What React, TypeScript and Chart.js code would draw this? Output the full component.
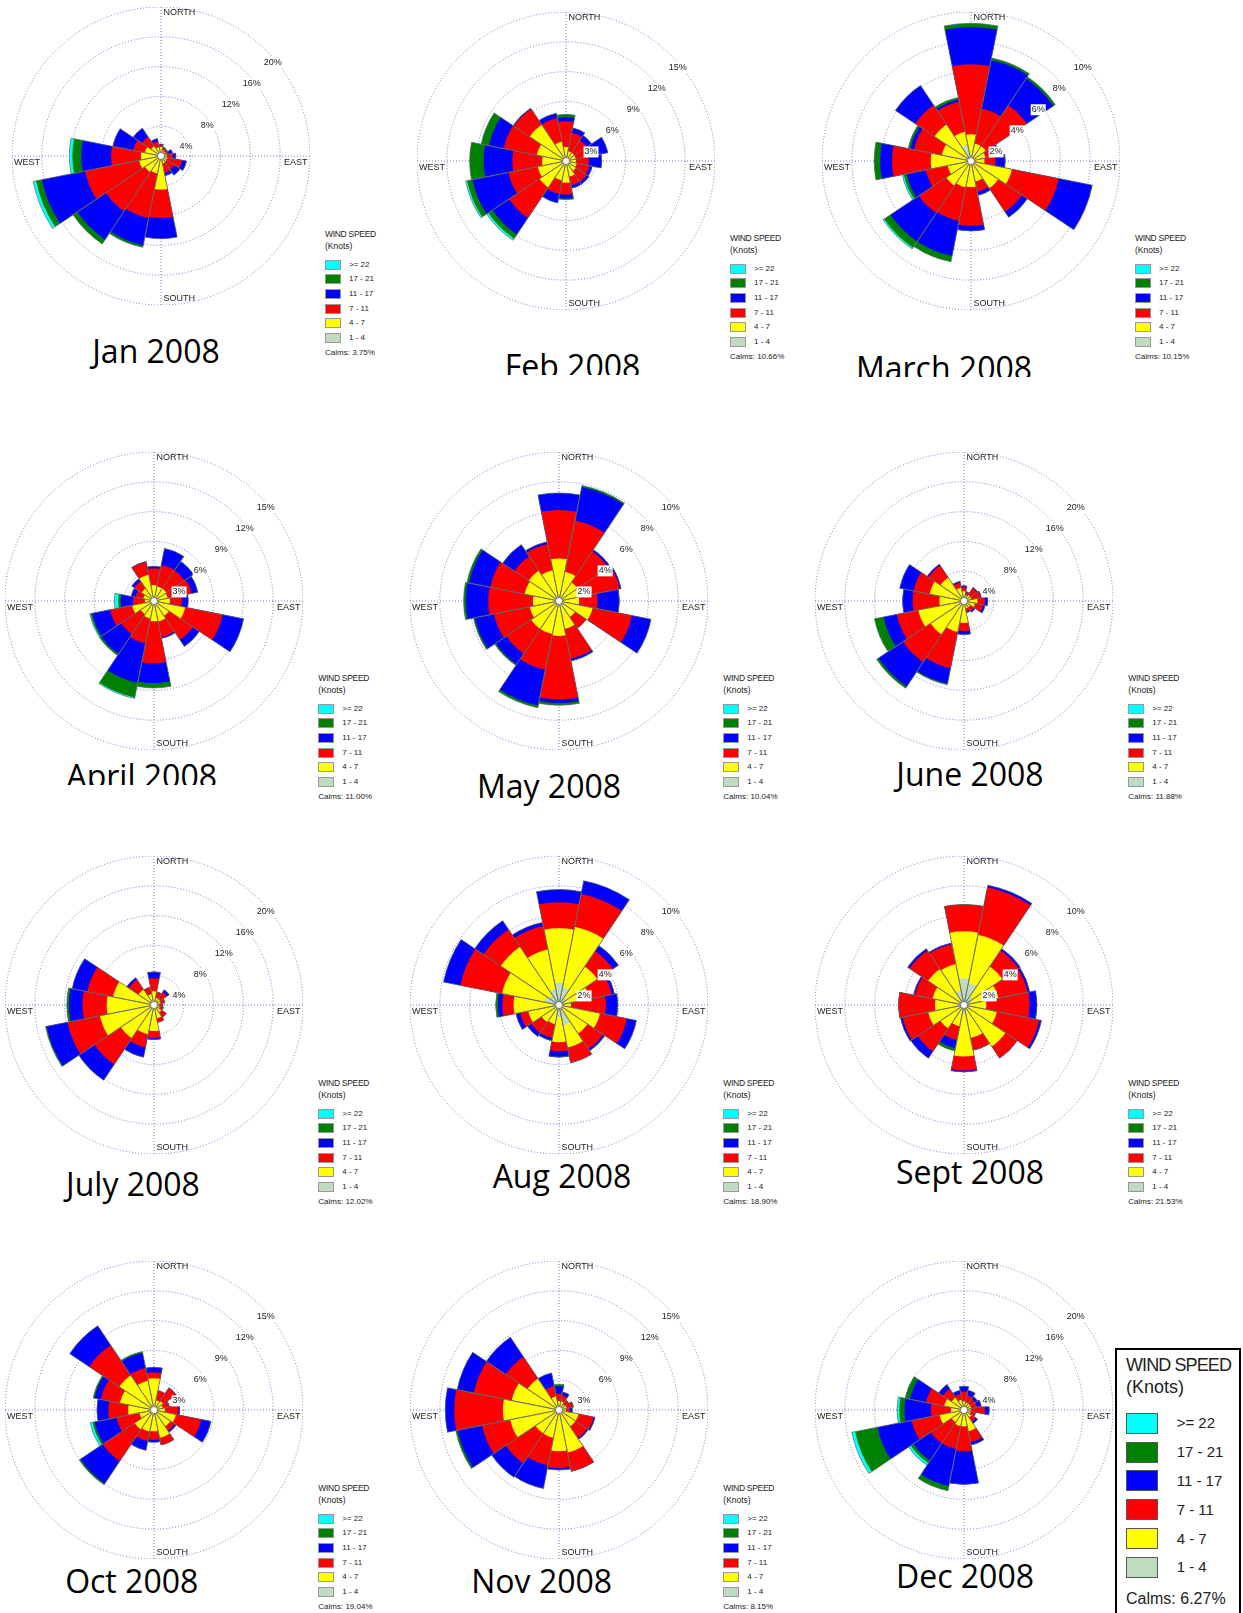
import React, { useEffect, useRef } from 'react';
import Chart from 'chart.js/auto';

// ---------------- DATA ----------------
const DIRECTIONS = ['N', 'NNE', 'NE', 'ENE', 'E', 'ESE', 'SE', 'SSE', 'S', 'SSW', 'SW', 'WSW', 'W', 'WNW', 'NW', 'NNW'];
const SPEED_BANDS = ['1 - 4', '4 - 7', '7 - 11', '11 - 17', '17 - 21', '>= 22'];
const MONTH_TITLES = ['Jan 2008', 'Feb 2008', 'March 2008', 'April 2008', 'May 2008', 'June 2008', 'July 2008', 'Aug 2008', 'Sept 2008', 'Oct 2008', 'Nov 2008', 'Dec 2008'];
const CALMS = [3.75, 10.66, 10.15, 11.0, 10.04, 11.88, 12.02, 18.9, 21.53, 19.04, 8.15, 6.27];
const SCALE_MAX = [20, 15, 10, 15, 10, 20, 20, 10, 10, 15, 15, 20];

// frequency (%) per direction (N..NNW) and speed band (1-4, 4-7, 7-11, 11-17, 17-21, >=22)
const JAN = [
  [0.3, 0.9, 0.3, 0.1, 0, 0], [0.2, 0.6, 0.3, 0.1, 0, 0], [0.2, 0.5, 0.3, 0.1, 0, 0], [0.2, 0.5, 0.4, 0.5, 0, 0],
  [0.2, 0.6, 0.8, 0.4, 0, 0], [0.2, 0.7, 2.0, 0.6, 0, 0], [0.2, 0.7, 1.3, 0.9, 0, 0], [0.2, 0.8, 1.3, 0.4, 0, 0],
  [0.3, 4.2, 3.8, 2.8, 0, 0], [0.3, 2.1, 6.1, 3.7, 0.3, 0], [0.3, 2.3, 6.3, 4.6, 0.7, 0], [0.3, 2.7, 7.4, 5.9, 0.8, 0.4],
  [0.3, 2.4, 4.0, 4.0, 1.2, 0.4], [0.3, 1.9, 1.6, 2.8, 0, 0], [0.3, 1.3, 1.5, 1.4, 0, 0], [0.3, 0.9, 0.8, 0.4, 0, 0],
];
const FEB = [
  [0.3, 1.1, 2.6, 0.4, 0.3, 0], [0.3, 0.7, 1.9, 0.5, 0, 0], [0.3, 0.7, 1.5, 0.6, 0, 0], [0.3, 0.7, 1.7, 1.6, 0, 0],
  [0.3, 0.7, 1.3, 1.3, 0, 0], [0.3, 0.8, 1.3, 0.3, 0, 0], [0.3, 0.9, 1.3, 0.3, 0, 0], [0.3, 1.3, 0.9, 0.3, 0, 0],
  [0.3, 1.9, 1.2, 0.4, 0.1, 0], [0.3, 1.7, 1.4, 0.9, 0, 0], [0.3, 2.9, 3.7, 2.0, 0.5, 0.2], [0.3, 2.6, 3.0, 3.7, 0.55, 0.15],
  [0.3, 2.1, 3.0, 2.9, 1.4, 0], [0.5, 2.5, 3.4, 1.5, 0.8, 0], [0.3, 4.1, 1.9, 0.1, 0, 0], [0.3, 1.7, 2.4, 0.5, 0, 0],
];
const MAR = [
  [0.3, 1.5, 4.7, 2.5, 0.24, 0], [0.2, 1.0, 2.4, 3.3, 0.15, 0], [0.2, 1.0, 3.3, 2.15, 0.15, 0], [0.2, 0.8, 0.9, 0.1, 0, 0],
  [0.2, 0.7, 0.75, 0.65, 0, 0], [0.2, 2.6, 3.2, 2.3, 0, 0], [0.2, 2.0, 1.9, 0.45, 0, 0], [0.2, 1.2, 0.7, 0.25, 0, 0],
  [0.2, 1.55, 2.6, 0.35, 0, 0], [0.2, 1.6, 2.3, 2.4, 0.4, 0], [0.2, 1.8, 2.2, 2.3, 0.5, 0.1], [0.2, 1.4, 1.5, 1.3, 0.2, 0.1],
  [0.3, 2.4, 2.6, 0.8, 0.4, 0], [0.3, 1.7, 1.9, 0.25, 0.15, 0], [0.4, 2.55, 1.55, 1.6, 0, 0], [1.1, 0.9, 2.05, 0.15, 0.15, 0],
];
const APR = [
  [0.2, 1.4, 1.7, 0.2, 0, 0], [0.2, 1.3, 2.2, 1.7, 0, 0], [0.2, 1.3, 2.2, 1.1, 0, 0], [0.2, 1.2, 2.45, 0.65, 0, 0],
  [0.2, 1.4, 1.2, 0.65, 0, 0], [0.2, 3.0, 3.85, 2.15, 0, 0], [0.2, 1.6, 2.9, 0.8, 0, 0], [0.2, 1.9, 1.6, 0.15, 0, 0],
  [0.2, 1.85, 4.2, 2.0, 0.5, 0], [0.2, 1.6, 2.55, 4.05, 1.5, 0.1], [0.2, 1.4, 2.4, 2.4, 0.2, 0], [0.2, 2.05, 2.25, 1.85, 0.15, 0.1],
  [0.2, 0.7, 1.2, 1.25, 0.25, 0.4], [0.2, 0.9, 0.8, 0.45, 0, 0], [0.2, 1.3, 0.9, 0.3, 0, 0], [0.2, 2.5, 1.3, 0.05, 0, 0],
];
const MAY = [
  [0.4, 2.45, 3.25, 1.15, 0, 0], [0.3, 1.7, 3.5, 2.3, 0.1, 0], [0.3, 1.2, 2.5, 0.15, 0, 0], [0.3, 1.2, 2.65, 0.1, 0, 0],
  [0.3, 1.05, 1.25, 1.45, 0, 0], [0.3, 2.0, 2.7, 1.3, 0, 0], [0.3, 1.0, 0.9, 0, 0, 0], [0.3, 1.6, 2.05, 0.15, 0, 0],
  [0.4, 1.95, 4.25, 0.25, 0.15, 0], [0.3, 1.95, 2.45, 2.45, 0.15, 0], [0.3, 1.95, 2.0, 0.85, 0.1, 0], [0.3, 1.7, 2.45, 1.3, 0.1, 0],
  [0.3, 1.45, 3.0, 1.5, 0.15, 0], [0.3, 2.05, 2.35, 1.45, 0.15, 0], [0.3, 2.15, 1.15, 0.95, 0, 0], [0.3, 1.8, 1.8, 0.15, 0, 0],
];
const JUN = [
  [0.2, 1.1, 0.5, 0.25, 0, 0], [0.2, 0.6, 0.4, 0.1, 0, 0], [0.2, 0.8, 1.1, 0.1, 0, 0], [0.2, 0.8, 1.3, 0.1, 0, 0],
  [0.2, 1.6, 1.0, 0.4, 0, 0], [0.2, 1.3, 1.1, 0.3, 0, 0], [0.2, 0.8, 0.6, 0.2, 0, 0], [0.2, 0.8, 0.5, 0.1, 0, 0],
  [0.2, 2.75, 1.1, 0.45, 0, 0], [0.2, 4.05, 4.95, 2.1, 0.15, 0], [0.2, 5.2, 4.45, 3.95, 0.3, 0], [0.2, 6.05, 2.95, 1.8, 1.25, 0],
  [0.2, 3.1, 3.6, 1.35, 0, 0], [0.2, 4.5, 2.2, 1.9, 0, 0], [0.2, 3.6, 1.95, 0.2, 0, 0], [0.2, 1.6, 0.7, 0.2, 0, 0],
];
const JUL = [
  [0.2, 1.65, 1.75, 0.85, 0, 0], [0.2, 0.8, 0.8, 0, 0, 0], [0.2, 0.8, 1.1, 0.35, 0, 0], [0.2, 0.7, 0.6, 0, 0, 0],
  [0.2, 0.5, 0.5, 0, 0, 0], [0.2, 0.6, 0.5, 0, 0, 0], [0.2, 1.0, 0.8, 0, 0, 0], [0.2, 1.6, 0.6, 0, 0, 0],
  [0.2, 3.3, 0.95, 0.2, 0, 0], [0.2, 3.8, 1.8, 1.35, 0, 0], [0.2, 5.15, 4.25, 2.55, 0, 0], [0.2, 7.2, 4.45, 2.85, 0.15, 0],
  [0.3, 6.05, 3.25, 1.8, 0.3, 0], [0.2, 5.4, 3.55, 2.05, 0, 0], [0.2, 2.3, 1.6, 0.3, 0, 0], [0.2, 1.3, 0.95, 0, 0, 0],
];
const AUG = [
  [1.5, 3.65, 1.75, 0.85, 0, 0], [1.25, 4.1, 2.25, 0.9, 0, 0], [0.6, 2.5, 1.25, 0.45, 0, 0], [0.4, 1.7, 1.5, 0.2, 0, 0],
  [0.3, 0.5, 2.35, 0.8, 0, 0], [0.3, 2.5, 1.85, 0.65, 0, 0], [0.3, 2.0, 1.25, 0.15, 0, 0], [1.4, 1.5, 1.05, 0, 0, 0],
  [0.8, 1.7, 0.6, 0.4, 0, 0], [0.4, 0.9, 0.95, 0.2, 0, 0], [0.3, 1.1, 0.85, 0.3, 0, 0], [0.3, 1.8, 0.55, 0.3, 0, 0],
  [0.5, 2.55, 0.75, 0.3, 0.15, 0], [1.0, 2.9, 2.85, 1.15, 0, 0], [0.8, 3.9, 1.4, 0.7, 0, 0], [1.1, 2.7, 1.6, 0.25, 0, 0],
];
const SEP = [
  [1.8, 3.15, 1.8, 0, 0, 0], [1.5, 3.3, 3.25, 0.15, 0, 0], [0.7, 2.4, 1.3, 0.15, 0, 0], [0.5, 1.85, 2.0, 0.15, 0, 0],
  [0.3, 1.2, 2.9, 0.5, 0, 0], [0.3, 1.95, 2.9, 0.15, 0, 0], [0.3, 3.05, 0.95, 0, 0, 0], [0.3, 1.95, 0.85, 0, 0, 0],
  [0.6, 2.85, 0.95, 0.1, 0, 0], [0.4, 1.05, 0.95, 0.55, 0.2, 0], [0.3, 1.6, 1.85, 0.55, 0, 0], [0.3, 2.15, 1.75, 0.15, 0, 0],
  [0.5, 1.45, 2.45, 0, 0, 0], [0.4, 1.75, 1.2, 0.1, 0, 0], [0.4, 2.5, 1.5, 0.15, 0, 0], [1.0, 1.8, 1.35, 0.1, 0, 0],
];
const OCT = [
  [0.2, 3.0, 0.6, 0.5, 0, 0], [0.2, 0.8, 1.0, 0, 0, 0], [0.2, 0.9, 1.6, 0, 0, 0], [0.2, 0.7, 0.7, 0, 0, 0],
  [0.2, 0.9, 1.35, 0.15, 0, 0], [0.2, 2.05, 2.6, 1.0, 0, 0], [0.2, 1.8, 0.5, 0.2, 0, 0], [0.2, 2.65, 0.75, 0, 0, 0],
  [0.2, 1.95, 0.85, 0.25, 0, 0], [0.2, 2.0, 1.0, 0.95, 0, 0], [0.2, 2.15, 3.85, 2.7, 0.15, 0], [0.2, 1.3, 2.35, 2.25, 0.2, 0.25],
  [0.2, 2.4, 2.0, 1.15, 0, 0], [0.2, 3.3, 1.95, 0.65, 0.15, 0], [0.2, 4.0, 3.65, 2.35, 0, 0], [0.2, 2.8, 1.3, 1.55, 0.15, 0],
];
const NOV = [
  [0.2, 0.7, 0.75, 0.75, 0.2, 0], [0.2, 0.7, 0.6, 0.35, 0, 0], [0.2, 0.5, 0.5, 0, 0, 0], [0.2, 0.6, 0.7, 0, 0, 0],
  [0.2, 0.5, 0.4, 0.25, 0, 0], [0.2, 1.8, 1.55, 0.15, 0, 0], [0.2, 1.8, 1.4, 0.15, 0, 0], [0.3, 4.05, 1.95, 0, 0, 0],
  [0.4, 3.75, 1.7, 0.2, 0, 0], [0.3, 2.55, 2.85, 2.35, 0, 0], [0.3, 2.55, 3.6, 1.7, 0, 0], [0.3, 4.7, 2.9, 2.5, 0.2, 0],
  [0.5, 5.15, 4.9, 0.9, 0, 0], [0.3, 4.55, 3.9, 1.7, 0, 0], [0.3, 3.5, 2.65, 2.35, 0, 0], [0.2, 1.2, 1.05, 1.35, 0, 0],
];
const DEC = [
  [0.2, 0.95, 1.35, 0.7, 0, 0], [0.2, 0.8, 1.0, 0.7, 0, 0], [0.2, 0.8, 0.8, 0.4, 0, 0], [0.2, 0.8, 0.8, 0.6, 0, 0],
  [0.2, 0.7, 1.9, 0.6, 0, 0], [0.2, 0.7, 0.7, 0, 0, 0], [0.2, 1.0, 0.7, 0.3, 0, 0], [0.2, 2.7, 1.5, 0.4, 0, 0],
  [0.2, 2.0, 3.35, 4.45, 0, 0], [0.2, 2.0, 3.15, 5.05, 0.65, 0], [0.2, 1.8, 3.35, 2.8, 0.45, 0.35], [0.2, 3.15, 3.8, 4.7, 3.05, 0.45],
  [0.2, 1.55, 2.7, 3.55, 0.7, 0.3], [0.2, 2.5, 2.5, 2.2, 0.65, 0], [0.2, 1.8, 1.4, 0.7, 0, 0], [0.2, 1.2, 0.8, 0.5, 0, 0],
];
const FREQ_TABLES = [JAN, FEB, MAR, APR, MAY, JUN, JUL, AUG, SEP, OCT, NOV, DEC];

// ---------------- STYLE / LAYOUT ----------------
const BAND_COLORS = ['#C0DCC0', '#FFFF00', '#FF0000', '#0000FF', '#008000', '#00FFFF'];
const GRID_COLOR = 'rgba(90,90,200,0.8)';
const TEXT_COLOR = '#222';
const SANS = "'Liberation Sans', Arial, sans-serif";
const SIZE = 298;

type Panel = { cx: number; cy: number; tx: number; tb: number; clip: number | null; lx: number | null; ly: number | null };
const PANELS: Panel[] = [
  { cx: 160.8, cy: 155.8, tx: 156, tb: 363.3, clip: null, lx: 325, ly: 234.3 },
  { cx: 565.8, cy: 160.5, tx: 572.5, tb: 378, clip: 375.5, lx: 730, ly: 238.3 },
  { cx: 970.8, cy: 160.5, tx: 944, tb: 380, clip: 377.5, lx: 1135, ly: 238.3 },
  { cx: 154.2, cy: 601.2, tx: 141.7, tb: 788, clip: 785, lx: 318.3, ly: 678.3 },
  { cx: 558.5, cy: 601.2, tx: 549, tb: 798.3, clip: null, lx: 723.3, ly: 678.3 },
  { cx: 963.5, cy: 601.2, tx: 970, tb: 786.7, clip: null, lx: 1128.3, ly: 678.3 },
  { cx: 154.2, cy: 1005.2, tx: 133, tb: 1196.7, clip: null, lx: 318.3, ly: 1083.3 },
  { cx: 558.5, cy: 1005.2, tx: 562, tb: 1188.3, clip: null, lx: 723.3, ly: 1083.3 },
  { cx: 963.5, cy: 1005.2, tx: 970, tb: 1184.3, clip: null, lx: 1128.3, ly: 1083.3 },
  { cx: 154.2, cy: 1410.2, tx: 131.7, tb: 1593.3, clip: null, lx: 318.3, ly: 1488.3 },
  { cx: 558.5, cy: 1410.2, tx: 541.7, tb: 1593.3, clip: null, lx: 723.3, ly: 1488.3 },
  { cx: 963.5, cy: 1410.2, tx: 965, tb: 1588.3, clip: null, lx: null, ly: null },
];

Chart.defaults.font.family = SANS;

const roseDecor = {
  id: 'roseDecor',
  beforeDatasetsDraw(chart: any) {
    const s = chart.scales.r;
    const ctx = chart.ctx;
    const cx = s.xCenter, cy = s.yCenter, R = s.drawingArea;
    ctx.save();
    ctx.strokeStyle = GRID_COLOR;
    ctx.lineWidth = 1;
    ctx.setLineDash([1, 2]);
    ctx.beginPath();
    ctx.moveTo(cx, cy - R); ctx.lineTo(cx, cy + R);
    ctx.moveTo(cx - R, cy); ctx.lineTo(cx + R, cy);
    ctx.stroke();
    ctx.restore();
  },
  afterDatasetsDraw(chart: any) {
    const s = chart.scales.r;
    const ctx = chart.ctx;
    const cx = s.xCenter, cy = s.yCenter, R = s.drawingArea;
    ctx.save();
    // petal outlines, taken from the outermost (cumulative) arcs drawn by the library
    const outer = chart.getDatasetMeta(chart.data.datasets.length - 1).data;
    ctx.strokeStyle = 'rgba(105,105,105,0.9)';
    ctx.lineWidth = 0.8;
    outer.forEach((arc: any) => {
      const { x, y, outerRadius, startAngle, endAngle } = arc.getProps(['x', 'y', 'outerRadius', 'startAngle', 'endAngle'], true);
      if (outerRadius <= 0) return;
      ctx.beginPath();
      ctx.moveTo(x, y);
      ctx.arc(x, y, outerRadius, startAngle, endAngle);
      ctx.closePath();
      ctx.stroke();
    });
    ctx.beginPath();
    ctx.arc(cx, cy, 3.5, 0, Math.PI * 2);
    ctx.fillStyle = '#fff';
    ctx.fill();
    ctx.strokeStyle = '#666';
    ctx.lineWidth = 0.8;
    ctx.stroke();
    ctx.font = `9px ${SANS}`;
    ctx.textBaseline = 'middle';
    ctx.textAlign = 'left';
    s.ticks.forEach((t: any) => {
      if (t.value <= 0) return;
      const d = s.getDistanceFromCenterForValue(t.value);
      const x = cx + d * Math.SQRT1_2 - 2.5;
      const y = cy - d * Math.SQRT1_2 + 12;
      const text = `${t.value}%`;
      const w = ctx.measureText(text).width;
      ctx.fillStyle = '#fff';
      ctx.fillRect(x - 1, y - 5.5, w + 2, 11);
      ctx.fillStyle = TEXT_COLOR;
      ctx.fillText(text, x, y);
    });
    ctx.fillStyle = TEXT_COLOR;
    ctx.fillText('NORTH', cx + 2.5, cy - R + 6);
    ctx.fillText('SOUTH', cx + 2.5, cy + R - 6);
    ctx.fillText('WEST', cx - R + 2, cy + 7);
    ctx.textAlign = 'right';
    ctx.fillText('EAST', cx + R - 2.5, cy + 7);
    ctx.restore();
  },
};

function buildConfig(idx: number): any {
  const table = FREQ_TABLES[idx];
  const max = SCALE_MAX[idx];
  // cumulative radii: each band is drawn from the centre out to the sum of it and all slower bands
  const cumulative = table.map((row) => {
    let acc = 0;
    return row.map((v) => (acc += v));
  });
  const datasets = SPEED_BANDS.map((label, k) => ({
    label,
    data: cumulative.map((row) => row[k]),
    backgroundColor: BAND_COLORS[k],
    borderWidth: 0,
  }));
  return {
    type: 'polarArea',
    data: { labels: DIRECTIONS, datasets },
    options: {
      responsive: false,
      maintainAspectRatio: false,
      animation: false,
      layout: { padding: 0 },
      events: [],
      plugins: { legend: { display: false }, tooltip: { enabled: false }, title: { display: false } },
      scales: {
        r: {
          min: 0,
          max,
          startAngle: -11.25,
          ticks: { display: false, stepSize: max / 5 },
          grid: { circular: true, color: GRID_COLOR, lineWidth: 1 },
          border: { dash: [1, 2] },
          angleLines: { display: false },
          pointLabels: { display: false },
        },
      },
    },
    plugins: [roseDecor],
  };
}

function WindRose({ idx }: { idx: number }) {
  const ref = useRef<HTMLCanvasElement>(null);
  useEffect(() => {
    if (!ref.current) return;
    const chart = new Chart(ref.current, buildConfig(idx));
    return () => chart.destroy();
  }, [idx]);
  const p = PANELS[idx];
  return (
    <canvas
      ref={ref}
      width={SIZE}
      height={SIZE}
      style={{ position: 'absolute', left: Math.round(p.cx - SIZE / 2), top: Math.round(p.cy - SIZE / 2), width: SIZE, height: SIZE }}
    />
  );
}

function Title({ idx }: { idx: number }) {
  const p = PANELS[idx];
  const top = p.tb - 28.4;
  const height = p.clip != null ? p.clip - top : 44;
  return (
    <div style={{ position: 'absolute', left: p.tx - 150, top, width: 300, height, overflow: 'hidden' }}>
      <div style={{ fontFamily: "'Open Sans', sans-serif", fontSize: 32, lineHeight: '32px', textAlign: 'center', color: '#000', whiteSpace: 'nowrap' }}>
        {MONTH_TITLES[idx]}
      </div>
    </div>
  );
}

const centerY = (y: number, extra: React.CSSProperties = {}): React.CSSProperties => ({
  position: 'absolute', top: y, transform: 'translateY(-50%)', whiteSpace: 'nowrap', color: TEXT_COLOR, fontFamily: SANS, ...extra,
});

function SmallLegend({ idx }: { idx: number }) {
  const p = PANELS[idx];
  if (p.lx == null || p.ly == null) return null;
  const x = p.lx, y = p.ly;
  const order = [5, 4, 3, 2, 1, 0];
  return (
    <>
      <div style={centerY(y, { left: x, fontSize: 8.5, lineHeight: '10px', letterSpacing: '-0.3px' })}>WIND SPEED</div>
      <div style={centerY(y + 11.7, { left: x, fontSize: 8.5, lineHeight: '10px' })}>(Knots)</div>
      {order.map((k, i) => (
        <React.Fragment key={k}>
          <div style={{ position: 'absolute', left: x, top: y + 30.3 + i * 14.7 - 5, width: 16, height: 10, boxSizing: 'border-box', border: '1px solid #999', background: BAND_COLORS[k] }} />
          <div style={centerY(y + 30.3 + i * 14.7, { left: x + 24, fontSize: 8, lineHeight: '10px' })}>{SPEED_BANDS[k]}</div>
        </React.Fragment>
      ))}
      <div style={centerY(y + 118.4, { left: x, fontSize: 8, lineHeight: '10px' })}>Calms: {CALMS[idx].toFixed(2)}%</div>
    </>
  );
}

function BigLegend({ idx }: { idx: number }) {
  const order = [5, 4, 3, 2, 1, 0];
  return (
    <>
      <div style={{ position: 'absolute', left: 1115, top: 1348, width: 126, height: 280, boxSizing: 'border-box', border: '2px solid #000', background: '#fff' }} />
      <div style={centerY(1365, { left: 1126, fontSize: 18, lineHeight: '20px', letterSpacing: '-0.9px' })}>WIND SPEED</div>
      <div style={centerY(1386.7, { left: 1126, fontSize: 18, lineHeight: '20px' })}>(Knots)</div>
      {order.map((k, i) => (
        <React.Fragment key={k}>
          <div style={{ position: 'absolute', left: 1126, top: 1423.3 + i * 28.8 - 10.5, width: 32, height: 21, boxSizing: 'border-box', border: '1px solid #555', background: BAND_COLORS[k] }} />
          <div style={centerY(1423.3 + i * 28.8, { left: 1176.7, fontSize: 15, lineHeight: '18px' })}>{SPEED_BANDS[k]}</div>
        </React.Fragment>
      ))}
      <div style={centerY(1599.3, { left: 1126, fontSize: 16, lineHeight: '18px' })}>Calms: {CALMS[idx].toFixed(2)}%</div>
    </>
  );
}

export default function App() {
  return (
    <div style={{ position: 'absolute', left: 0, top: 0, width: 1243, height: 1613, overflow: 'hidden', background: '#fff' }}>
      {MONTH_TITLES.map((_, i) => (
        <React.Fragment key={i}>
          <WindRose idx={i} />
          <Title idx={i} />
          {i === 11 ? <BigLegend idx={i} /> : <SmallLegend idx={i} />}
        </React.Fragment>
      ))}
    </div>
  );
}
